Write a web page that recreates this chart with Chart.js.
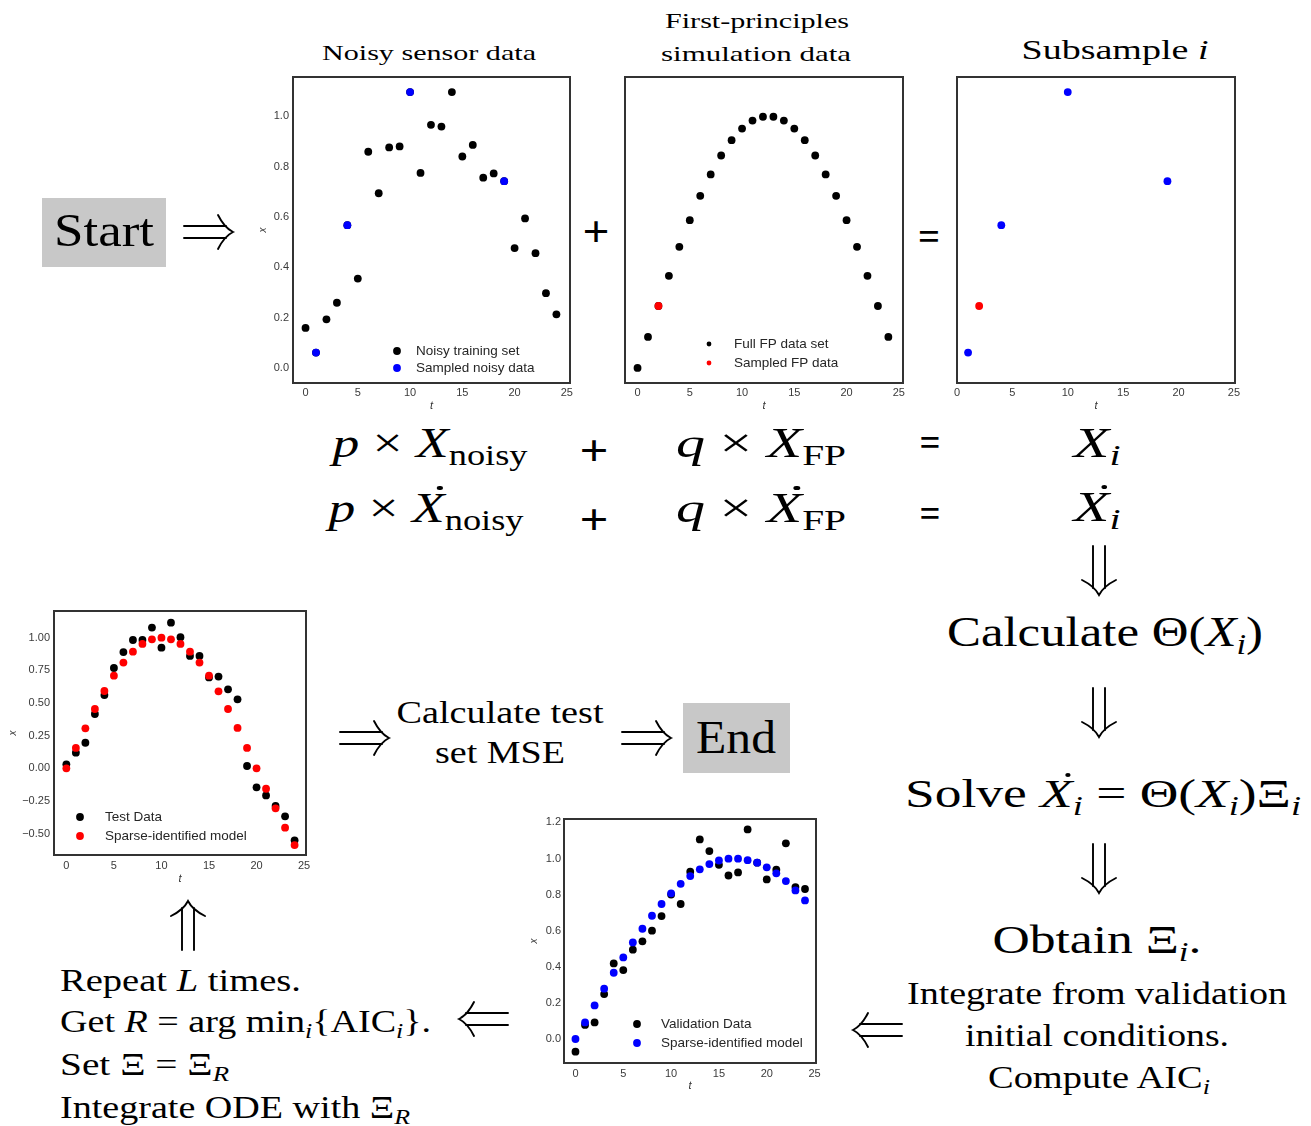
<!DOCTYPE html>
<html><head><meta charset="utf-8">
<script src="https://cdn.jsdelivr.net/npm/chart.js@4.4.1/dist/chart.umd.min.js"></script>
<style>
html,body{margin:0;padding:0;background:#fff;}
body{width:1311px;height:1126px;position:relative;overflow:hidden;font-family:"Liberation Serif","Times New Roman","DejaVu Serif",serif;color:#000;}
canvas{position:absolute;}
.t{position:absolute;white-space:nowrap;line-height:1;}
.t i{font-style:italic;}
.t b{font-weight:bold;}
sub{font-size:0.68em;vertical-align:-0.28em;line-height:0;}
.dot{position:relative;display:inline-block;}
.dot::after{content:"";position:absolute;left:0.47em;top:-0.02em;width:0.1em;height:0.1em;border-radius:50%;background:#000;}
.box{position:absolute;background:#c8c8c8;}
svg{position:absolute;left:0;top:0;}
</style></head>
<body>
<div class="box" style="left:42px;top:198px;width:124px;height:69px"></div>
<div class="box" style="left:683px;top:703px;width:107px;height:70px"></div>

<div id="texts"></div>
<svg id="arrows" width="1311" height="1126"></svg>

<script>
// ---------------- DATA ----------------
const tValues = [0,1,2,3,4,5,6,7,8,9,10,11,12,13,14,15,16,17,18,19,20,21,22,23,24];
const noisyTraining = [0.159,0.061,0.193,0.259,0.567,0.355,0.859,0.694,0.876,0.880,1.096,0.775,0.966,0.959,1.096,0.840,0.886,0.756,0.773,0.742,0.476,0.594,0.456,0.297,0.213];
const noisySampledIdx = [1,4,10,19];
const fpFull = [0.000,0.123,0.246,0.366,0.481,0.587,0.684,0.769,0.844,0.905,0.951,0.983,0.998,0.998,0.983,0.951,0.905,0.844,0.769,0.684,0.587,0.481,0.366,0.246,0.123];
const fpSampledIdx = [2];
const testData = [0.031,0.120,0.196,0.416,0.561,0.768,0.890,0.982,0.982,1.077,0.923,1.115,1.003,0.860,0.860,0.696,0.702,0.605,0.528,0.018,-0.145,-0.207,-0.288,-0.367,-0.551];
const testModel = [0.000,0.156,0.306,0.454,0.592,0.709,0.809,0.893,0.952,0.987,1.000,0.987,0.952,0.893,0.809,0.709,0.589,0.454,0.309,0.156,0.000,-0.156,-0.306,-0.454,-0.587];
const validationData = [-0.070,0.078,0.092,0.249,0.419,0.382,0.495,0.541,0.600,0.681,0.800,0.748,0.927,1.106,1.041,0.965,0.906,0.923,1.161,0.977,0.884,0.938,1.084,0.842,0.831];
const validationModel = [0.000,0.092,0.186,0.279,0.367,0.452,0.535,0.611,0.683,0.748,0.807,0.860,0.903,0.940,0.969,0.989,0.999,0.999,0.991,0.977,0.951,0.918,0.875,0.823,0.768];
const xTicksTop = [0,5,10,15,20,25];
const yTicksNoisy = [0.0,0.2,0.4,0.6,0.8,1.0];
const yTicksTest = [-0.50,-0.25,0.00,0.25,0.50,0.75,1.00];
const yTicksVal = [0.0,0.2,0.4,0.6,0.8,1.0,1.2];

// ---------------- HELPERS ----------------
const pts = (arr) => tValues.map((t,i)=>({x:t,y:arr[i]}));
const pick = (arr, idx) => idx.map(i=>({x:tValues[i],y:arr[i]}));
const TICKFONT = {family:'"Liberation Sans", Arial, sans-serif', size:11};
const TICKCOL = '#3a3a3a';
const fmt = (d) => (v) => { const s = Number(v).toFixed(d); return s.startsWith('-') ? '\u2212'+s.slice(1) : s; };

const framePlugin = {
  id:'frame',
  afterDatasetsDraw(chart){
    const {ctx, chartArea:a} = chart;
    ctx.save(); ctx.strokeStyle='#333'; ctx.lineWidth=2;
    ctx.strokeRect(a.left, a.top, a.right-a.left, a.bottom-a.top);
    ctx.restore();
  }
};
const legendPlugin = {
  id:'innerLegend',
  afterDraw(chart, args, o){
    if(!o || !o.order) return;
    const ctx = chart.ctx;
    ctx.save();
    ctx.font = '13.5px "Liberation Sans", Arial, sans-serif';
    ctx.textBaseline = 'middle';
    o.order.forEach((di,k)=>{
      const ds = chart.data.datasets[di];
      const y = o.y + k*o.dy;
      ctx.beginPath(); ctx.arc(o.x, y, o.r, 0, Math.PI*2);
      ctx.fillStyle = ds.backgroundColor; ctx.fill();
      ctx.fillStyle = '#262626';
      ctx.fillText(ds.label, o.tx, y);
    });
    ctx.restore();
  }
};

function makeChart(area, cv, spec){
  const c = document.createElement('canvas');
  c.width = cv.w; c.height = cv.h;
  c.style.left = cv.x+'px'; c.style.top = cv.y+'px';
  c.style.width = cv.w+'px'; c.style.height = cv.h+'px';
  document.body.appendChild(c);
  const yW = area.L - cv.x, xH = cv.y + cv.h - area.B;
  const leg = spec.legend ? {order:spec.legend.order, x:spec.legend.x-cv.x, y:spec.legend.y-cv.y, dy:spec.legend.dy, tx:spec.legend.tx-cv.x, r:spec.legend.r} : null;
  new Chart(c, {
    type:'scatter',
    data:{datasets: spec.datasets.map(d=>({label:d.label, data:d.data, backgroundColor:d.color, pointBackgroundColor:d.color, pointBorderWidth:0, pointRadius:d.r||3.9, pointHoverRadius:d.r||3.9, order:d.order}))},
    options:{
      responsive:false, animation:false, devicePixelRatio:1,
      layout:{padding:{top:area.T-cv.y, right:cv.x+cv.w-area.R, left:0, bottom:0}},
      plugins:{legend:{display:false}, tooltip:{enabled:false}, innerLegend: leg},
      scales:{
        x:{type:'linear', min:spec.xmin, max:spec.xmax,
           afterBuildTicks:(s)=>{ s.ticks = xTicksTop.map(v=>({value:v})); },
           ticks:{display:true, font:TICKFONT, color:TICKCOL, padding:spec.xpad, callback:(v)=>String(v), maxRotation:0, autoSkip:false},
           grid:{display:false, drawTicks:false}, border:{display:false},
           title:{display:true, text:'t', font:{family:'"Liberation Sans", Arial, sans-serif', size:11, style:'italic'}, color:'#333', padding:{top:0,bottom:spec.xtpad}},
           afterFit:(s)=>{ s.height = xH; }},
        y:{type:'linear', min:spec.ymin, max:spec.ymax,
           afterBuildTicks:(s)=>{ s.ticks = (spec.yticks||[]).map(v=>({value:v})); },
           ticks:{display:!!spec.yticks, font:TICKFONT, color:TICKCOL, padding:spec.ypad||3, callback:fmt(spec.ydec||1), autoSkip:false},
           grid:{display:false, drawTicks:false}, border:{display:false},
           title:{display:!!spec.ytitle, text:'x', font:{family:'"Liberation Sans", Arial, sans-serif', size:10, style:'italic'}, color:'#333', padding:{top:spec.ytpad||0,bottom:spec.ytpad||0}},
           afterFit:(s)=>{ s.width = yW; }}
      }
    },
    plugins:[framePlugin, legendPlugin]
  });
}

// Noisy sensor data
makeChart({L:293,T:77,R:570,B:383},{x:250,y:62,w:330,h:353},{
  xmin:-1.2, xmax:25.3, ymin:-0.06, ymax:1.156, yticks:yTicksNoisy, ydec:1, xpad:3, xtpad:2, ypad:4, ytitle:true, ytpad:7,
  datasets:[
    {label:'Sampled noisy data', data:pick(noisyTraining,noisySampledIdx), color:'#0000ff', order:1},
    {label:'Noisy training set', data:pts(noisyTraining), color:'#000000', order:2}
  ],
  legend:{order:[1,0], x:397, y:351, dy:17, tx:416, r:3.9}
});
// First-principles
makeChart({L:625,T:77,R:903,B:383},{x:600,y:62,w:313,h:353},{
  xmin:-1.2, xmax:25.4, ymin:-0.06, ymax:1.156, yticks:null, xpad:3, xtpad:2,
  datasets:[
    {label:'Sampled FP data', data:pick(fpFull,fpSampledIdx), color:'#ff0000', order:1},
    {label:'Full FP data set', data:pts(fpFull), color:'#000000', order:2}
  ],
  legend:{order:[1,0], x:709, y:344, dy:19, tx:734, r:2.4}
});
// Subsample i
makeChart({L:957,T:77,R:1235,B:383},{x:940,y:62,w:305,h:353},{
  xmin:0, xmax:25.1, ymin:-0.06, ymax:1.156, yticks:null, xpad:3, xtpad:2,
  datasets:[
    {label:'Sampled noisy data', data:pick(noisyTraining,noisySampledIdx), color:'#0000ff', order:1},
    {label:'Sampled FP data', data:pick(fpFull,fpSampledIdx), color:'#ff0000', order:2}
  ]
});
// Test
makeChart({L:54,T:611,R:306,B:855},{x:0,y:597,w:316,h:293},{
  xmin:-1.3, xmax:25.2, ymin:-0.663, ymax:1.204, yticks:yTicksTest, ydec:2, xpad:4, xtpad:4, ypad:4, ytitle:true, ytpad:7,
  datasets:[
    {label:'Sparse-identified model', data:pts(testModel), color:'#ff0000', order:1},
    {label:'Test Data', data:pts(testData), color:'#000000', order:2}
  ],
  legend:{order:[1,0], x:80, y:817, dy:19, tx:105, r:3.9}
});
// Validation
makeChart({L:564,T:819,R:816,B:1063},{x:525,y:805,w:300,h:295},{
  xmin:-1.2, xmax:25.15, ymin:-0.133, ymax:1.219, yticks:yTicksVal, ydec:1, xpad:4, xtpad:7, ypad:3, ytitle:true, ytpad:3,
  datasets:[
    {label:'Sparse-identified model', data:pts(validationModel), color:'#0000ff', order:1},
    {label:'Validation Data', data:pts(validationData), color:'#000000', order:2}
  ],
  legend:{order:[1,0], x:637, y:1024, dy:19, tx:661, r:3.9}
});

// ---------------- TEXT ----------------
const D = (s)=>'<span class="dot">'+s+'</span>';
const texts = [
  ['c',429,53,214,22,'Noisy sensor data'],
  ['c',757,21,184,22,'First-principles'],
  ['c',756,54,190,22,'simulation data'],
  ['c',1115,50,187,27,'Subsample <i>i</i>'],
  ['c',104,231,100,46,'Start'],
  ['c',736,738,80,46,'End'],
  ['c',596,232,27,44,'<b>+</b>'],
  ['c',929,237,22,40,'<b>=</b>'],
  ['c',430,443,195,42,'<i>p</i> × <i>X</i><sub>noisy</sub>'],
  ['c',594,451,29,44,'<b>+</b>'],
  ['c',761,443,170,42,'<i>q</i> × <i>X</i><sub>FP</sub>'],
  ['c',930,443,21,40,'<b>=</b>'],
  ['c',1097,443,47,42,'<i>X</i><sub><i>i</i></sub>'],
  ['c',426,508,195,42,'<i>p</i> × '+D('<i>X</i>')+'<sub>noisy</sub>'],
  ['c',594,520,29,44,'<b>+</b>'],
  ['c',761,508,170,42,'<i>q</i> × '+D('<i>X</i>')+'<sub>FP</sub>'],
  ['c',930,514,21,40,'<b>=</b>'],
  ['c',1097,507,47,42,D('<i>X</i>')+'<sub><i>i</i></sub>'],
  ['c',1105,632,316,42,'Calculate Θ(<i>X</i><sub><i>i</i></sub>)'],
  ['c',1103,794,396,40,'Solve '+D('<i>X</i>')+'<sub><i>i</i></sub> = Θ(<i>X</i><sub><i>i</i></sub>)Ξ<sub><i>i</i></sub>'],
  ['c',1097,940,209,40,'Obtain Ξ<sub><i>i</i></sub>.'],
  ['c',1097,993,380,32,'Integrate from validation'],
  ['c',1097,1035,264,32,'initial conditions.'],
  ['c',1099,1077,222,32,'Compute AIC<sub><i>i</i></sub>'],
  ['c',500,712,207,32,'Calculate test'],
  ['c',500,752,130,32,'set MSE'],
  ['l',60,980,241,32,'Repeat <i>L</i> times.'],
  ['l',60,1021,371,32,'Get <i>R</i> = arg min<sub><i>i</i></sub>{AIC<sub><i>i</i></sub>}.'],
  ['l',60,1064,169,32,'Set Ξ = Ξ<sub><i>R</i></sub>'],
  ['l',60,1107,350,32,'Integrate ODE with Ξ<sub><i>R</i></sub>']
];
const host = document.getElementById('texts');
const els = texts.map(([a,x,y,w,fs,html])=>{
  const d = document.createElement('div');
  d.className='t'; d.innerHTML = html;
  d.style.fontSize = fs+'px'; d.style.left = x+'px'; d.style.top = y+'px';
  host.appendChild(d);
  return [d,a,w];
});
function fit(){
  els.forEach(([d,a,w])=>{
    d.style.transform='none';
    const cw = d.getBoundingClientRect().width;
    const s = w/cw;
    if(a==='c'){ d.style.transformOrigin='50% 50%'; d.style.transform='translate(-50%,-50%) scaleX('+s.toFixed(3)+')'; }
    else { d.style.transformOrigin='0 50%'; d.style.transform='translate(0,-50%) scaleX('+s.toFixed(3)+')'; }
  });
}
fit();
if(document.fonts && document.fonts.ready) document.fonts.ready.then(fit);

// ---------------- ARROWS ----------------
const arrows = [[183,232,0],[339,738,0],[621,738,0],[509,1019,180],[903,1030,180],[1099,545,90],[1099,687,90],[1099,843,90],[188,951,-90]];
const svg = document.getElementById('arrows');
let s = '';
arrows.forEach(([x,y,a])=>{
  s += '<g transform="translate('+x+','+y+') rotate('+a+')" fill="none" stroke="#000" stroke-width="1.9" stroke-linecap="round">'+
       '<path d="M1,-6 H43 M1,6 H43"/>'+
       '<path d="M35,-17 C39,-9 44,-3 50,0 C44,3 39,9 35,17"/></g>';
});
svg.innerHTML = s;
</script>
</body></html>
